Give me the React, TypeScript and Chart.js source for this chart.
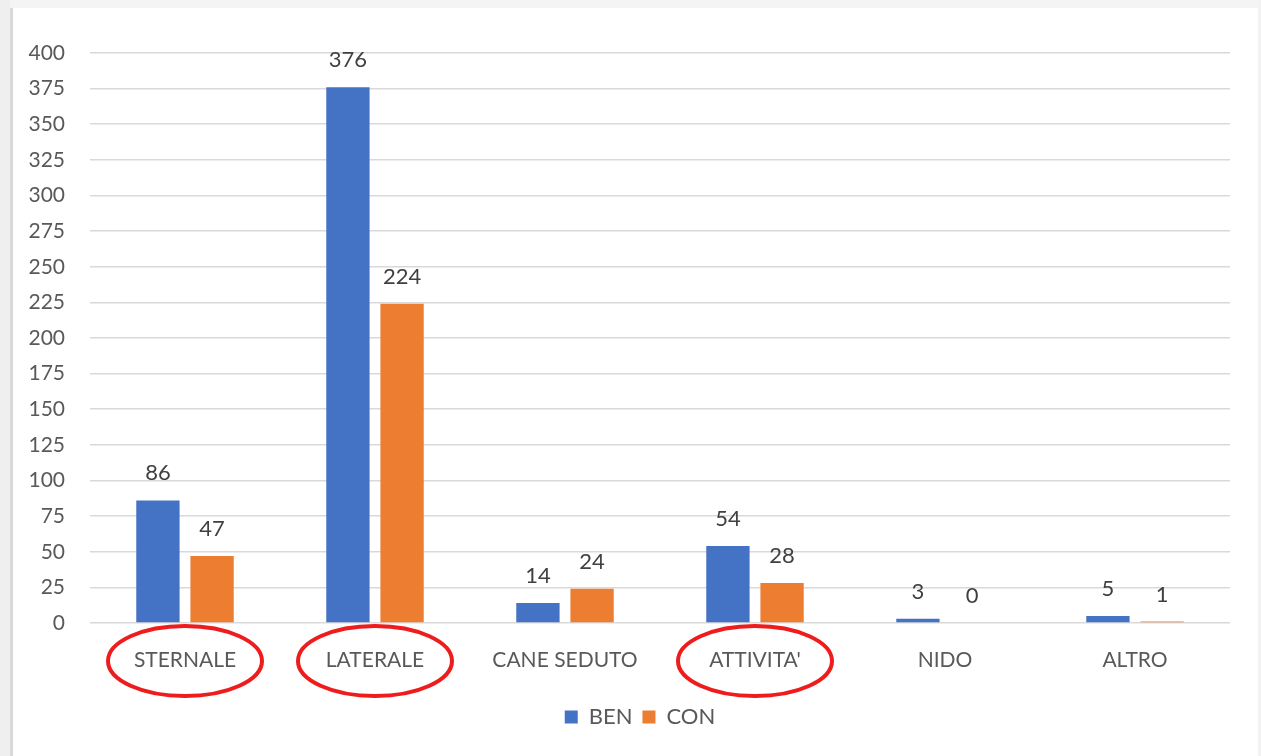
import React, { useEffect, useRef } from "react";
import { Chart, registerables } from "chart.js";

Chart.register(...registerables);

const CATEGORIES = ["STERNALE", "LATERALE", "CANE SEDUTO", "ATTIVITA'", "NIDO", "ALTRO"];
const BEN = [86, 376, 14, 54, 3, 5];
const CON = [47, 224, 24, 28, 0, 1];
const HIGHLIGHTED = ["STERNALE", "LATERALE", "ATTIVITA'"];
const Y_MIN = 0;
const Y_MAX = 400;
const Y_STEP = 25;

const FONT = "Lato, 'Open Sans', sans-serif";

const valueLabels = {
  id: "valueLabels",
  afterDatasetsDraw(chart: any) {
    const ctx = chart.ctx;
    ctx.save();
    ctx.font = `22px ${FONT}`;
    ctx.fillStyle = "#404040";
    ctx.textAlign = "center";
    ctx.textBaseline = "alphabetic";
    chart.data.datasets.forEach((ds: any, di: number) => {
      const meta = chart.getDatasetMeta(di);
      meta.data.forEach((el: any, i: number) => {
        ctx.fillText(String(ds.data[i]), el.x, el.y - 20);
      });
    });
    ctx.restore();
  },
};

const ellipses = {
  id: "ellipses",
  afterDraw(chart: any) {
    const ctx = chart.ctx;
    const xs = chart.scales.x;
    const y = chart.chartArea.bottom + 38;
    ctx.save();
    ctx.strokeStyle = "#ee1c1c";
    ctx.lineWidth = 4;
    HIGHLIGHTED.forEach((c) => {
      const idx = CATEGORIES.indexOf(c);
      if (idx < 0) return;
      const x = xs.getPixelForValue(idx);
      ctx.beginPath();
      ctx.ellipse(x, y, 77, 35, 0, 0, Math.PI * 2);
      ctx.stroke();
    });
    ctx.restore();
  },
};

// centre the legend under the plot area rather than the whole canvas
const legendShift = {
  id: "legendShift",
  afterLayout(chart: any) {
    const lg = chart.legend;
    if (!lg) return;
    const shift = (chart.chartArea.left + chart.chartArea.right) / 2 - (lg.left + lg.right) / 2 - 20;
    lg.left += shift;
    lg.right += shift;
  },
};

export default function App() {
  const ref = useRef<HTMLCanvasElement | null>(null);

  useEffect(() => {
    document.body.style.margin = "0";
    document.body.style.overflow = "hidden";
    if (!ref.current) return;
    const chart = new Chart(ref.current, {
      type: "bar",
      data: {
        labels: CATEGORIES,
        datasets: [
          { label: "BEN", data: BEN, backgroundColor: "#4472C4" },
          { label: "CON", data: CON, backgroundColor: "#ED7D31" },
        ],
      },
      options: {
        animation: false,
        responsive: false,
        maintainAspectRatio: false,
        layout: { padding: { top: 53, right: 31, left: 0, bottom: 18 } },
        datasets: {
          bar: { categoryPercentage: 0.57, barPercentage: 0.8 },
        },
        scales: {
          x: {
            grid: { display: false, drawTicks: false },
            border: { display: false },
            ticks: {
              color: "#595959",
              font: { family: FONT, size: 21 },
              padding: 25,
              maxRotation: 0,
            },
            afterFit(scale: any) {
              scale.height = 73;
            },
          },
          y: {
            min: Y_MIN,
            max: Y_MAX,
            grid: { color: "#d9d9d9", lineWidth: 1.6, drawTicks: false },
            border: { display: false },
            ticks: {
              stepSize: Y_STEP,
              color: "#595959",
              font: { family: FONT, size: 21 },
              padding: 25,
            },
            afterFit(scale: any) {
              scale.width = 90;
            },
          },
        },
        plugins: {
          legend: {
            position: "bottom",
            labels: {
              boxWidth: 13,
              boxHeight: 13,
              padding: 10,
              color: "#595959",
              font: { family: FONT, size: 22 },
            },
          },
          tooltip: { enabled: false },
        },
      },
      plugins: [valueLabels, ellipses, legendShift],
    });
    return () => chart.destroy();
  }, []);

  return (
    <div style={{ position: "absolute", left: 0, top: 0, width: 1261, height: 756, background: "#ffffff", overflow: "hidden" }}>
      <div style={{ position: "absolute", left: 0, top: 0, width: 1261, height: 8, background: "#f4f4f4" }} />
      <div style={{ position: "absolute", left: 0, top: 0, width: 10, height: 756, background: "#efefef" }} />
      <div style={{ position: "absolute", left: 10, top: 8, width: 3, height: 748, background: "#d9d9d9" }} />
      <div style={{ position: "absolute", left: 1258, top: 0, width: 3, height: 756, background: "#f2f2f2" }} />
      <canvas ref={ref} width={1261} height={756} style={{ position: "absolute", left: 0, top: 0 }} />
    </div>
  );
}
